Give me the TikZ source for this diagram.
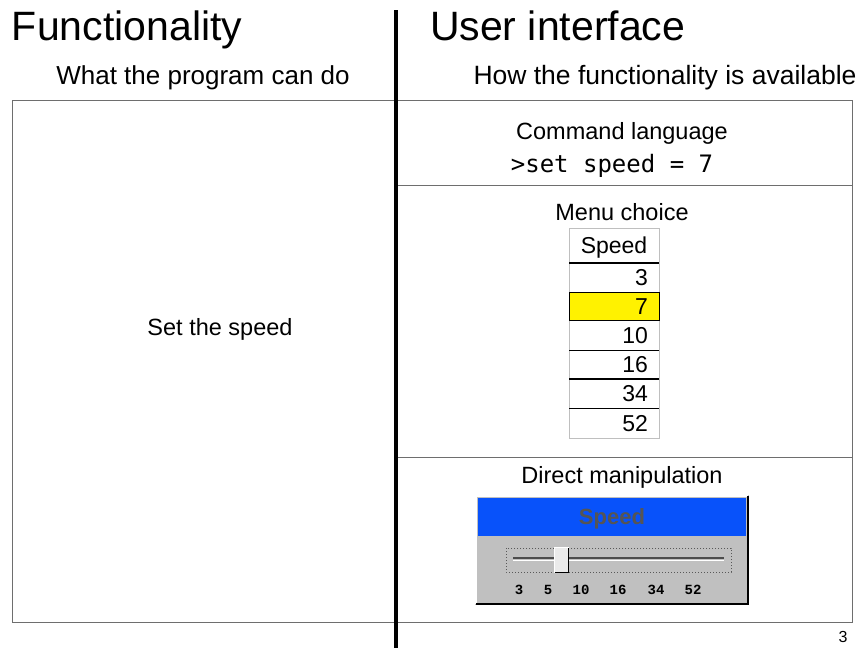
\documentclass[tikz,border=0pt]{standalone}
\usepackage{fontspec}
\setmainfont{Liberation Sans}
\setmonofont{DejaVu Sans Mono}
\newfontfamily\slidemono{Liberation Mono}
\definecolor{winblue}{RGB}{8,82,250}
\definecolor{wingray}{RGB}{192,192,192}
\definecolor{framegray}{RGB}{110,110,110}
\definecolor{titlegray}{RGB}{85,85,85}
\newcommand{\fs}[1]{\fontsize{#1}{#1}\selectfont}
\begin{document}
\begin{tikzpicture}[x=1pt,y=-1pt,
  txt/.style={inner sep=0pt,outer sep=0pt,anchor=base},
  frameline/.style={draw=framegray,line width=1pt},
  rowline/.style={draw=black,line width=1pt},
  scalelbl/.style={txt,font=\slidemono\bfseries\fs{14}}]
\useasboundingbox (0,0) rectangle (863,648);
% main frame
\draw[frameline] (12,100) rectangle (852,622);
\draw[frameline] (397,185) -- (852,185);
\draw[frameline] (397,457) -- (852,457);
% thick divider
\draw[line width=4pt] (395.5,10) -- (395.5,648);
% titles
\node[txt,anchor=base west,font=\fs{41}] (tf) at (12,40) {Functionality};
\node[txt,anchor=base west,font=\fs{41}] (tu) at (430,40) {User interface};
\node[txt,font=\fs{26}] (sf) at (203,84) {What the program can do};
\node[txt,font=\fs{26.5}] (su) at (665,84) {How the functionality is available};
% left content
\node[txt,font=\fs{23.5}] (set) at (220,335) {Set the speed};
% command language
\node[txt,font=\fs{23.5}] (cl) at (622,139.5) {Command language};
\node[txt,font=\ttfamily\fs{24}] (cmd) at (612,172) {>set speed = 7};
% menu choice
\node[txt,font=\fs{23.5}] (mc) at (622,220) {Menu choice};
\fill[white] (569,228) rectangle (659,438);
\draw[draw=black!25,line width=1pt] (569,228) rectangle (659,438);
\draw[line width=2pt] (569,263) -- (659,263);
\draw[fill=yellow,draw=black,line width=1pt] (569,292) rectangle (659,320);
\draw[rowline] (569,350) -- (659,350);
\draw[line width=2pt] (569,379) -- (659,379);
\draw[rowline] (569,408) -- (659,408);
\node[txt,font=\fs{23}] (mh) at (614,253) {Speed};
\node[txt,anchor=base east,font=\fs{23}] (m3) at (648,285) {3};
\node[txt,anchor=base east,font=\fs{23}] (m7) at (648,314) {7};
\node[txt,anchor=base east,font=\fs{23}] (m10) at (648,343) {10};
\node[txt,anchor=base east,font=\fs{23}] (m16) at (648,372) {16};
\node[txt,anchor=base east,font=\fs{23}] (m34) at (648,401) {34};
\node[txt,anchor=base east,font=\fs{23}] (m52) at (648,431) {52};
% direct manipulation
\node[txt,font=\fs{23.5}] (dm) at (622,483) {Direct manipulation};
\fill[wingray] (475,495) rectangle (749,605);
\draw[white,line width=1.5pt] (475.75,604) -- (475.75,495.75) -- (748,495.75);
\draw[black,line width=2pt] (476,604) -- (748,604) -- (748,496);
\fill[winblue] (478,498) rectangle (746,536);
\node[txt,font=\bfseries\fs{22},text=titlegray] (ws) at (612,524) {Speed};
\draw[black!65,dotted,line width=1pt] (506,548) rectangle (731,572);
\draw[black!70,line width=2pt] (513,557.5) -- (724,557.5);
\draw[white,line width=1pt] (513,560) -- (724,560);
\fill[black!8] (554,547) rectangle (569,573);
\draw[white,line width=1pt] (554.5,572.5) -- (554.5,547.5) -- (568.5,547.5);
\draw[black,line width=1.5pt] (554.5,572.5) -- (568.5,572.5) -- (568.5,547.5);
\node[scalelbl] (l3) at (519,594) {3};
\node[scalelbl] (l5) at (548,594) {5};
\node[scalelbl] (l10) at (581,594) {10};
\node[scalelbl] (l16) at (618,594) {16};
\node[scalelbl] (l34) at (656,594) {34};
\node[scalelbl] (l52) at (693,594) {52};
% page number
\node[txt,font=\fs{16}] (pg) at (843,642) {3};
\end{tikzpicture}
\end{document}
